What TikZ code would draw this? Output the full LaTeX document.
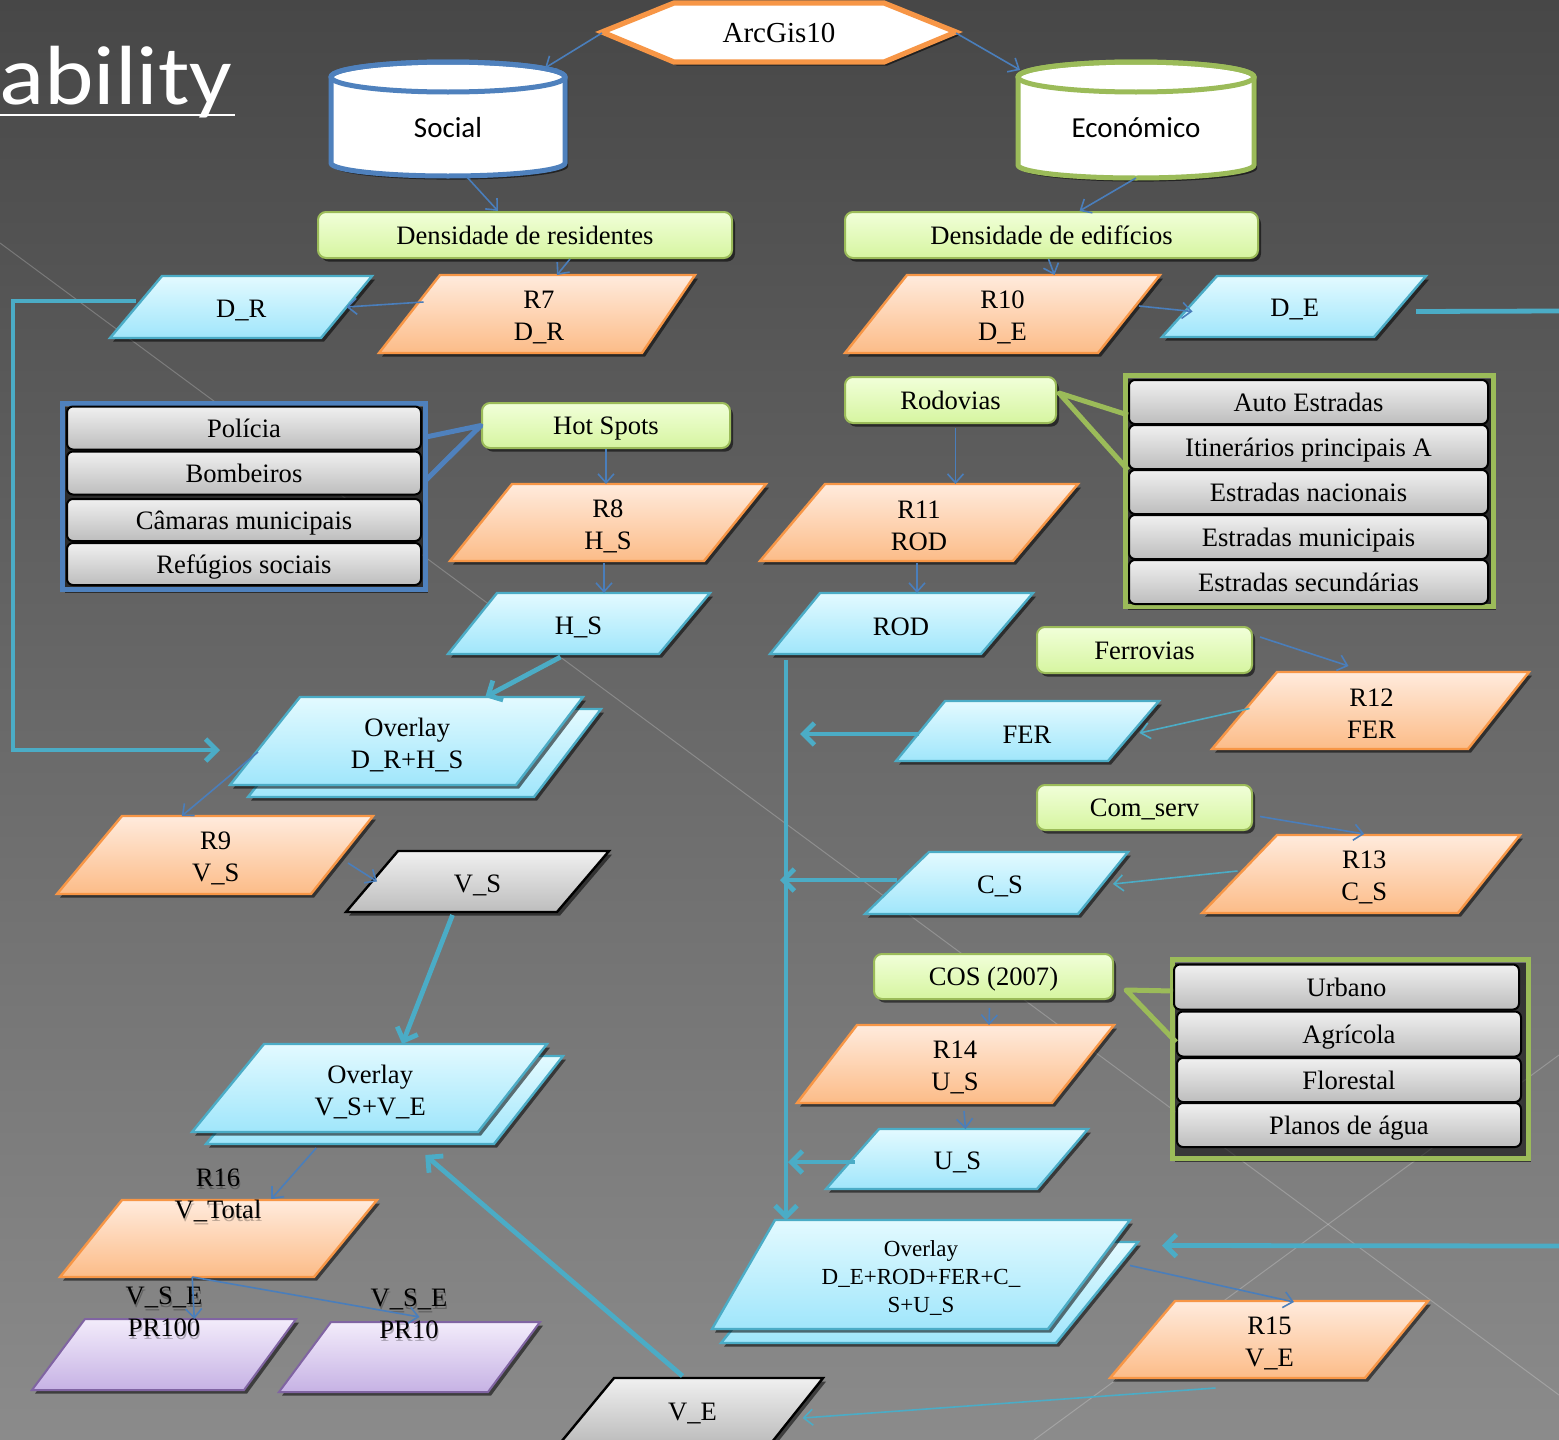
\documentclass[tikz,border=0pt]{standalone}
\usepackage{fontspec}
\usepackage{graphicx}
\setmainfont{Liberation Serif}
\newfontfamily\calfont{Carlito}
\usetikzlibrary{arrows.meta,shadows,calc}

\definecolor{bgtop}{HTML}{474747}
\definecolor{bgbot}{HTML}{8B8B8B}
\definecolor{orB}{HTML}{F79646}
\definecolor{orT}{HTML}{FFEBDD}
\definecolor{orL}{HTML}{FCBC88}
\definecolor{tealB}{HTML}{4BACC6}
\definecolor{blT}{HTML}{E3FAFF}
\definecolor{blL}{HTML}{A0E6FB}
\definecolor{grT}{HTML}{F0F0F0}
\definecolor{grL}{HTML}{BDBDBD}
\definecolor{puB}{HTML}{8064A2}
\definecolor{puT}{HTML}{F3ECFB}
\definecolor{puL}{HTML}{C6B2E4}
\definecolor{gnB}{HTML}{9BBB59}
\definecolor{gnT}{HTML}{F1FFD9}
\definecolor{gnL}{HTML}{D6F5A0}
\definecolor{lineblue}{HTML}{4A7EBB}
\definecolor{boxblue}{HTML}{4F81BD}

\newcommand\lab{\fontsize{13.3}{16}\selectfont}

\tikzset{
  shd/.style={drop shadow={shadow xshift=1.5pt,shadow yshift=-1.8pt,opacity=0.55,fill=black}},
  orp/.style={shd,draw=orB,line width=1.2pt,top color=orT,bottom color=orL},
  blp/.style={shd,draw=tealB,line width=1.2pt,top color=blT,bottom color=blL},
  gyp/.style={shd,draw=black,line width=1.2pt,top color=grT,bottom color=grL},
  pup/.style={shd,draw=puB,line width=1pt,top color=puT,bottom color=puL},
  gbox/.style={shd,draw=gnB,line width=1pt,rounded corners=4pt,top color=gnT,bottom color=gnL,inner sep=0pt,font=\lab,text height=11pt,text depth=2pt},
  litem/.style={draw=black,line width=1pt,rounded corners=3pt,top color=grT,bottom color=grL,inner sep=0pt,font=\lab,text height=11pt,text depth=2pt},
  ptext/.style={inner sep=0pt,outer sep=0pt,align=center,font=\lab},
  anch/.style={inner sep=0pt,outer sep=0pt},
  thinar/.style={draw=lineblue,line width=0.8pt,-{Straight Barb[length=4.5pt,width=8pt]}},
  thintl/.style={thinar,draw=tealB},
  thickar/.style={draw=tealB,line width=2.4pt,-{Straight Barb[length=5.5pt,width=11pt]}},
}

% name, style, xTL, xTR, yT, xBL, xBR, yB, text
\newcommand\para[9]{%
  \path[#2] (#3,#5) -- (#4,#5) -- (#7,#8) -- (#6,#8) -- cycle;
  \pgfmathsetmacro\pcx{(#3+#4+#6+#7)/4}%
  \pgfmathsetmacro\pcy{(#5+#8)/2}%
  \pgfmathsetmacro\pcyt{\pcy+3.5}%
  \pgfmathsetmacro\pw{((#4+#7)-(#3+#6))/4}%
  \pgfmathsetmacro\ph{(#8-#5)/2}%
  \node[anch,minimum width=\pw pt,minimum height=\ph pt] (#1) at (\pcx,\pcy) {};
  \node[ptext] (#1-t) at (\pcx,\pcyt) {#9};
}

\begin{document}
\begin{tikzpicture}[x=0.5pt,y=-0.5pt]
\useasboundingbox (0,0) rectangle (1559,1440);
\shade[top color=bgtop,bottom color=bgbot] (0,0) rectangle (1559,1440);
\draw[white,opacity=0.22,line width=0.5pt] (0,243) -- (1559,1395);
\draw[white,opacity=0.22,line width=0.5pt] (1034,1440) -- (1559,1055);

% title fragment
\node[anchor=base east,inner sep=0pt,text=white,font=\calfont\fontsize{42}{50}\selectfont] (title) at (233,104) {\scalebox{1.12}[1]{ability}};
\draw[white,line width=1.4pt] (0,115) -- ($(title.base east)+(2,11)$);

% ArcGis hexagon
\path[shd,draw=orB,line width=2.6pt,fill=white] (602,32) -- (674,3) -- (884,3) -- (956,32) -- (884,62) -- (674,62) -- cycle;
\node[ptext,font=\fontsize{14.5}{17}\selectfont,minimum width=177pt,minimum height=29.5pt] (arc) at (779,33) {ArcGis10};

% cylinders
\path[shd,fill=white,draw=boxblue,line width=2.5pt] (331,77) -- (331,163) arc[start angle=180,end angle=360,x radius=58.5pt,y radius=6.5pt] -- (565,77) arc[start angle=0,end angle=180,x radius=58.5pt,y radius=7.5pt] -- cycle;
\draw[boxblue,line width=2.5pt] (448,77) ellipse [x radius=58.5pt,y radius=7.5pt];
\node[anch,minimum width=117pt,minimum height=57pt] (social) at (448,119) {};
\node[inner sep=0pt,font=\calfont\fontsize{14.5}{17}\selectfont] (soctxt) at (448,128) {Social};

\path[shd,fill=white,draw=gnB,line width=2.5pt] (1018,77) -- (1018,165) arc[start angle=180,end angle=360,x radius=59pt,y radius=6.5pt] -- (1254,77) arc[start angle=0,end angle=180,x radius=59pt,y radius=7.5pt] -- cycle;
\draw[gnB,line width=2.5pt] (1136,77) ellipse [x radius=59pt,y radius=7.5pt];
\node[anch,minimum width=118pt,minimum height=58pt] (econ) at (1136,120) {};
\node[inner sep=0pt,font=\calfont\fontsize{14.5}{17}\selectfont] (econtxt) at (1136,128) {Económico};

% green boxes
\node[gbox,minimum width=207pt,minimum height=23pt] (dres) at (525,235) {Densidade de residentes};
\node[gbox,minimum width=206.5pt,minimum height=23pt] (dedif) at (1051.5,235) {Densidade de edifícios};
\node[gbox,minimum width=124pt,minimum height=22.5pt] (hot) at (606,425.5) {Hot Spots};
\node[gbox,minimum width=105.5pt,minimum height=23pt] (rodov) at (950.5,400) {Rodovias};
\node[gbox,minimum width=107.5pt,minimum height=23pt] (ferr) at (1144.5,650) {Ferrovias};
\node[gbox,minimum width=107.5pt,minimum height=22.5pt] (coms) at (1144.5,807.5) {Com\_serv};
\node[gbox,minimum width=119.5pt,minimum height=22.5pt] (cos) at (993.5,976.5) {COS (2007)};

% lists
\node[shd,draw=boxblue,line width=2.5pt,minimum width=181.5pt,minimum height=93pt,inner sep=0pt] (polbox) at (243.5,496) {};
\node[litem,minimum width=177pt,minimum height=21.5pt] (pol1) at (244,428) {Polícia};
\node[litem,minimum width=177pt,minimum height=21.5pt] (pol2) at (244,473) {Bombeiros};
\node[litem,minimum width=177pt,minimum height=21pt] (pol3) at (244,520) {Câmaras municipais};
\node[litem,minimum width=177pt,minimum height=21pt] (pol4) at (244,564) {Refúgios sociais};

\node[shd,draw=gnB,line width=2.5pt,minimum width=184pt,minimum height=115.5pt,inner sep=0pt] (aubox) at (1309,490.5) {};
\node[litem,minimum width=179.5pt,minimum height=22pt] (au1) at (1308.5,402) {Auto Estradas};
\node[litem,minimum width=179.5pt,minimum height=22pt] (au2) at (1308.5,447) {Itinerários principais A};
\node[litem,minimum width=179.5pt,minimum height=22pt] (au3) at (1308.5,492) {Estradas nacionais};
\node[litem,minimum width=179.5pt,minimum height=22pt] (au4) at (1308.5,537) {Estradas municipais};
\node[litem,minimum width=179.5pt,minimum height=22pt] (au5) at (1308.5,582) {Estradas secundárias};

\node[shd,draw=gnB,line width=2.5pt,minimum width=178pt,minimum height=99.5pt,inner sep=0pt] (urbox) at (1350,1058.5) {};
\node[litem,minimum width=172.5pt,minimum height=22.5pt] (ur1) at (1346.5,987) {Urbano};
\node[litem,minimum width=172pt,minimum height=22.5pt] (ur2) at (1349,1034) {Agrícola};
\node[litem,minimum width=172pt,minimum height=22pt] (ur3) at (1349,1080) {Florestal};
\node[litem,minimum width=172pt,minimum height=22pt] (ur4) at (1349,1125) {Planos de água};

% parallelograms
\para{r7}{orp}{440}{695}{275}{379}{642}{353}{R7\\D\_R}
\para{dr}{blp}{162}{372}{276}{110}{321}{338}{D\_R}
\para{r10}{orp}{907}{1160}{275}{845}{1098}{353}{R10\\D\_E}
\para{de}{blp}{1217}{1426}{276}{1162}{1374}{337}{D\_E}
\para{r8}{orp}{512}{766}{484}{450}{704}{561}{R8\\H\_S}
\para{hs}{blp}{497}{710}{593}{448}{659}{654}{H\_S}
\para{r11}{orp}{825}{1078}{484}{760}{1013}{561}{R11\\ROD}
\para{rod}{blp}{820}{1033}{593}{770}{981}{654}{ROD}
\path[blp] (318,709) -- (601,709) -- (534,797) -- (248,797) -- cycle;
\para{ov1}{blp}{300}{583}{697}{230}{516}{785}{Overlay\\D\_R+H\_S}
\para{r9}{orp}{122}{373}{816}{57}{311}{894}{R9\\V\_S}
\para{vs}{gyp}{398}{609}{851}{346}{557}{912}{V\_S}
\path[blp] (280,1056) -- (563,1056) -- (494,1144) -- (206,1144) -- cycle;
\para{ov2}{blp}{264}{547}{1044}{192}{478}{1132}{Overlay\\V\_S+V\_E}
\para{r16}{orp}{122}{377}{1200}{60}{314}{1277}{}
\para{pr100}{pup}{85}{296}{1319}{32}{244}{1390}{}
\para{pr10}{pup}{331}{540}{1322}{279}{488}{1392}{}
\para{ve}{gyp}{614}{823}{1378}{561}{772}{1442}{V\_E}
\para{r12}{orp}{1277}{1529}{672}{1212}{1468}{749}{R12\\FER}
\para{fer}{blp}{945}{1159}{701}{896}{1108}{761}{FER}
\para{r13}{orp}{1277}{1520}{835}{1202}{1458}{913}{R13\\C\_S}
\para{cs}{blp}{929}{1128}{852}{865}{1078}{914}{C\_S}
\para{r14}{orp}{857}{1114}{1025}{797}{1052}{1103}{R14\\U\_S}
\para{us}{blp}{879}{1088}{1129}{826}{1037}{1189}{U\_S}
\path[blp] (803,1242) -- (1138,1242) -- (1056,1343) -- (721,1343) -- cycle;
\para{ov3}{blp}{775}{1130}{1220}{712}{1048}{1329}{}
\node[ptext,font=\fontsize{11.5}{14}\selectfont] (ov3lab) at (921,1278) {Overlay\\D\_E+ROD+FER+C\_\\S+U\_S};
\para{r15}{orp}{1175}{1428}{1301}{1110}{1365}{1378}{R15\\V\_E}

% labels placed over shapes
\node[ptext,text=black,opacity=0.25] (r16sh) at (219,1198.5) {R16\\V\_Total};
\node[ptext] (r16lab) at (218,1195.5) {R16\\V\_Total};
\node[ptext,text=black,opacity=0.25] (pr100sh) at (165,1315) {V\_S\_E\\PR100};
\node[ptext] (pr100lab) at (164,1312) {V\_S\_E\\PR100};
\node[ptext,text=black,opacity=0.25] (pr10sh) at (410,1317) {V\_S\_E\\PR10};
\node[ptext] (pr10lab) at (409,1314) {V\_S\_E\\PR10};

% connectors: top
\draw[thinar] (arc.west) -- ($(social.north east)+(-20,6)$);
\draw[thinar] (arc.east) -- ($(econ.north west)+(2,8)$);
\draw[thinar] ($(social.south)+(18,0)$) -- ($(dres.north)+(-27,0)$);
\draw[thinar] (econ.south) -- ($(dedif.north)+(28,0)$);
\draw[thinar] ($(dres.south)+(45,0)$) -- ($(r7.north)+(18,0)$);
\draw[thinar] ($(r7.west)+(14,-12)$) -- (dr.east);
\draw[thinar] ($(dedif.south)+(-3,0)$) -- ($(r10.north)+(52,0)$);
\draw[thinar] ($(r10.east)+(10,-8)$) -- ($(de.west)+(3,5)$);
\coordinate (edgeA) at (1559,311);
\draw[draw=tealB,line width=2.4pt] ($(de.east)+(16,5)$) -- (edgeA);
\draw[thickar] ($(dr.west)+(0,-6)$) -- ++(-123,0) |- ($(ov1.west)+(-45,9)$);

% left column
\draw[boxblue,line width=2.5pt,line join=round] ($(pol1.east)+(4,9)$) -- (hot.west) -- ($(pol2.east)+(4,7)$);
\draw[thinar] (hot.south) -- ($(r8.north)+(-2,0)$);
\draw[thinar] ($(r8.south)+(-4,2)$) -- ($(hs.north)+(25.5,0)$);
\draw[thickar] ($(hs.south)+(-18,3)$) -- ($(ov1.north)+(78,0)$);
\draw[thinar] ($(ov1.west)+(-7,11)$) -- ($(r9.north)+(-34,0)$);
\draw[thinar] ($(r9.east)+(6,8)$) -- ($(vs.west)+(5,0)$);
\draw[thickar] ($(vs.south)+(-25,3)$) -- ($(ov2.north)+(32,0)$);
\draw[thinar] ($(ov2.south)+(-54,16)$) -- ($(r16.north)+(53,-1)$);
\draw[thinar] ($(r16.south)+(-26,0)$) -- ($(pr100.north)+(30,0)$);
\draw[thinar] ($(r16.south)+(-26,0)$) -- ($(pr10.north)+(10,-5)$);
\draw[thickar] ($(ve.north)+(-10,-2)$) -- ($(ov2.south)+(55,23)$);

% right column
\draw[gnB,line width=2.5pt,line join=round] ($(au1.west)+(0,13)$) -- ($(rodov.east)+(2,-7)$) -- (au2.south west);
\draw[thinar] ($(rodov.south)+(5,4)$) -- ($(r11.north)+(36.5,0)$);
\draw[thinar] ($(r11.south)+(-2,2)$) -- ($(rod.north)+(16,0)$);
\coordinate (trunk) at (786,660);
\draw[thickar] (trunk) -- (trunk |- ov3.north);
\draw[thinar] ($(ferr.east)+(7,-13)$) -- ($(r12.north)+(-23,-6)$);
\draw[thintl] ($(r12.west)+(5,-2)$) -- ($(fer.east)+(6,2)$);
\draw[thickar] ($(fer.west)+(-2,3)$) -- ($(fer.west -| trunk)+(14,3)$);
\draw[thinar] ($(coms.east)+(7,9)$) -- ($(r13.north)+(0,-1)$);
\draw[thintl] ($(r13.west)+(-2,-3)$) -- ($(cs.east)+(10,1)$);
\draw[thickar] ($(cs.west)+(0,-3)$) -- ($(cs.west -| trunk)+(-6,-3)$);
\draw[gnB,line width=2.5pt,line join=round] ($(ur1.west)+(0,4)$) -- ($(cos.east)+(12,13.5)$) -- ($(ur2.west)+(0,8)$);
\draw[thinar] ($(cos.south)+(-4,8)$) -- ($(r14.north)+(34,0)$);
\draw[thinar] ($(r14.south)+(9,8)$) -- ($(us.north)+(8,0)$);
\draw[thickar] ($(us.west)+(2,3)$) -- ($(us.west -| trunk)+(2,3)$);
\coordinate (edgeB) at (1559,1246);
\draw[thickar] (edgeB) -- ($(ov3.east)+(73,-29)$);
\draw[thinar] ($(ov3.east)+(41,-9)$) -- ($(r15.north)+(24.5,1)$);
\draw[thintl] ($(r15.south)+(-54,10)$) -- ($(ve.east)+(5,8)$);
\end{tikzpicture}
\end{document}
